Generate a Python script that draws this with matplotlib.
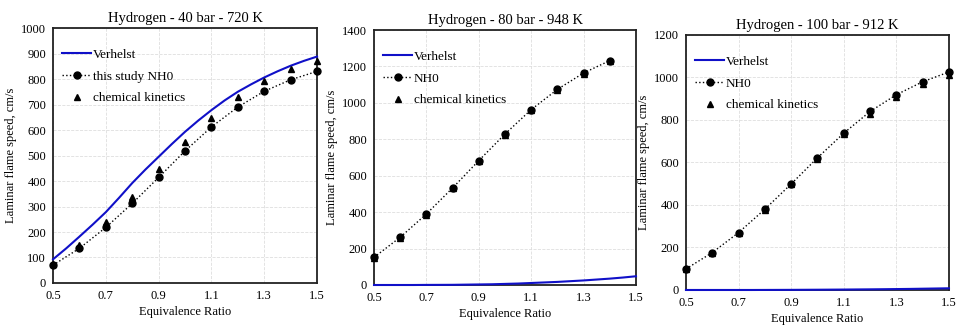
import numpy as np
import matplotlib.pyplot as plt

plt.rcParams['font.family'] = ['Liberation Serif', 'DejaVu Serif']

# ======================================
# Data
# ======================================

phi = [0.5, 0.6, 0.7, 0.8, 0.9, 1.0, 1.1, 1.2, 1.3, 1.4, 1.5]
phi_fine = [0.5, 0.55, 0.6, 0.65, 0.7, 0.75, 0.8, 0.85, 0.9, 0.95, 1.0,
            1.05, 1.1, 1.15, 1.2, 1.25, 1.3, 1.35, 1.4, 1.45, 1.5]

# 40 bar - 720 K
verhelst_40 = [93, 136, 182, 229, 278, 334, 392, 445, 495, 545, 593,
               637, 678, 716, 750, 779, 806, 830, 852, 871, 888]
nh0_40 = [70, 136, 218, 312, 414, 518, 612, 690, 752, 797, 830]
kin_40 = [75, 149, 238, 339, 447, 553, 648, 729, 793, 840, 872]

# 80 bar - 948 K
verhelst_80 = [0, 0, 0, 0, 0.5, 0.7, 1, 2, 3, 4, 6,
               8, 11, 14, 17, 21, 25, 30, 35, 41, 48]
nh0_80 = [152, 262, 390, 533, 683, 829, 963, 1074, 1164, 1232]
kin_80 = [148, 258, 386, 530, 680, 826, 960, 1070, 1160, 1230]

# 100 bar - 912 K
verhelst_100 = [0, 0, 0, 0, 0, 0, 0.2, 0.4, 0.6, 0.9, 1.2,
                1.6, 2, 2.5, 3, 3.6, 4.3, 5, 6, 7, 8]
nh0_100 = [99, 176, 270, 380, 499, 622, 738, 840, 919, 980, 1026]
kin_100 = [97, 174, 268, 378, 497, 618, 732, 828, 909, 969, 1010]

titles = ['Hydrogen - 40 bar - 720 K',
          'Hydrogen - 80 bar - 948 K',
          'Hydrogen - 100 bar - 912 K']
nh0_labels = ['this study NH0', 'NH0', 'NH0']

# ======================================
# Figure
# ======================================

fig = plt.figure(figsize=(9.61, 3.28), dpi=100)

positions = [
    [0.0552, 0.1372, 0.2747, 0.7774],
    [0.3892, 0.1311, 0.2726, 0.7774],
    [0.7138, 0.1159, 0.2737, 0.7774],
]
ylims = [(0, 1000, 100), (0, 1400, 200), (0, 1200, 200)]
verhelst_all = [verhelst_40, verhelst_80, verhelst_100]
nh0_all = [nh0_40, nh0_80, nh0_100]
kin_all = [kin_40, kin_80, kin_100]

for i in range(3):
    ax = fig.add_axes(positions[i])
    n = len(nh0_all[i])

    ax.plot(phi_fine, verhelst_all[i], color='#1010c8', lw=1.5,
            label='Verhelst', zorder=4, clip_on=False)
    ax.plot(phi[:n], nh0_all[i], color='black', ls=':', lw=1,
            marker='o', markersize=5, label=nh0_labels[i], zorder=5,
            clip_on=False)
    ax.plot(phi[:len(kin_all[i])], kin_all[i], color='black', ls='none',
            marker='^', markersize=5, label='chemical kinetics', zorder=5,
            clip_on=False)

    lo, hi, step = ylims[i]
    ax.set_xlim(0.5, 1.5)
    ax.set_ylim(lo, hi)
    ax.set_xticks([0.5, 0.7, 0.9, 1.1, 1.3, 1.5])
    ax.set_xticklabels(['0.5', '0.7', '0.9', '1.1', '1.3', '1.5'])
    ax.set_yticks(np.arange(lo, hi + 1, step))
    ax.tick_params(length=0, labelsize=9, pad=5)
    ax.grid(True, color='#dedede', ls='--', lw=0.6)
    ax.set_axisbelow(True)
    for s in ax.spines.values():
        s.set_color('#222222')
        s.set_linewidth(1.3)

    ax.set_title(titles[i], fontsize=10.5, pad=4)
    ax.set_xlabel('Equivalence Ratio', fontsize=9, labelpad=3)
    ax.set_ylabel('Laminar flame speed, cm/s', fontsize=9, labelpad=3)

    ax.legend(loc='upper left', frameon=False, fontsize=9.5,
              handlelength=2.2, handletextpad=0.1, labelspacing=0.72,
              borderaxespad=0.3, bbox_to_anchor=(0.0, 0.955))

plt.savefig('out.png', dpi=100)
